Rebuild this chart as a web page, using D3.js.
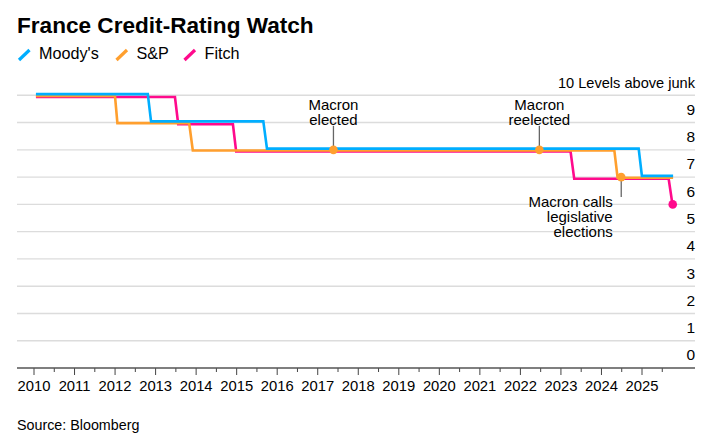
<!DOCTYPE html>
<html><head><meta charset="utf-8">
<script src="https://cdn.jsdelivr.net/npm/d3@7"></script>
<style>
html,body{margin:0;background:#fff}
svg{display:block}
text{font-family:"Liberation Sans",Arial,sans-serif;fill:#000}
</style></head><body><div id="c"></div>
<script>
const title = "France Credit-Rating Watch";
const source = "Source: Bloomberg";
const unitLabel = "10 Levels above junk";
const moodys = [[2010.06,10],[2012.82,10],[2012.9,9],[2015.67,9],[2015.76,8],[2024.93,8],[2025.01,7],[2025.78,7]];
const sp = [[2010.06,10],[2012.01,10],[2012.07,9],[2013.84,9],[2013.93,8],[2024.33,8],[2024.41,7],[2025.78,7]];
const fitch = [[2010.06,10],[2013.49,10],[2013.57,9],[2014.92,9],[2015.0,8],[2023.25,8],[2023.34,7],[2025.67,7],[2025.77,6]];
const yearTicks = d3.range(2010,2026);
const halfTicks = d3.range(2010.5,2026,1);
const levelLines = d3.range(1,11);
const levelLabels = d3.range(0,10);
const events = [
  {x:2017.4,y:8,lines:["Macron","elected"],dir:"up",anchor:"middle"},
  {x:2022.48,y:8,lines:["Macron","reelected"],dir:"up",anchor:"middle"},
  {x:2024.5,y:7,lines:["Macron calls","legislative","elections"],dir:"down",anchor:"end"}
];
const series = [
  {name:"Fitch",data:fitch,color:"#ff0a8c",dy:1.7},
  {name:"S&P",data:sp,color:"#ff9f2e",dy:0.6},
  {name:"Moody's",data:moodys,color:"#00aeff",dy:-1.2}
];
const legend = [{name:"Moody's",color:"#00aeff",x:19,tx:39},{name:"S&P",color:"#ff9f2e",x:116.5,tx:136.5},{name:"Fitch",color:"#ff0a8c",x:184.5,tx:204.5}];

const W=723,H=447;
const svg=d3.select("#c").append("svg").attr("width",W).attr("height",H);
const x=d3.scaleLinear().domain([2010,2025]).range([33.5,641.5]);
const y=d3.scaleLinear().domain([0,10]).range([368,95.3]);
const L=17,R=695;

svg.append("text").attr("x",17).attr("y",33).attr("font-size",22.6).attr("font-weight",700).text(title);
legend.forEach(d=>{
  svg.append("line").attr("x1",d.x).attr("x2",d.x+10.5).attr("y1",60).attr("y2",50).attr("stroke",d.color).attr("stroke-width",3.2);
  svg.append("text").attr("x",d.tx).attr("y",59).attr("font-size",16.2).text(d.name);
});

svg.append("g").selectAll("line").data(levelLines).join("line")
  .attr("x1",L).attr("x2",R).attr("y1",d=>y(d)).attr("y2",d=>y(d)).attr("stroke","#dcdcdc").attr("stroke-width",1.4);

svg.append("text").attr("x",695).attr("y",88).attr("text-anchor","end").attr("font-size",14.6).text(unitLabel);
svg.append("g").selectAll("text").data(levelLabels).join("text")
  .attr("x",695).attr("y",d=>y(d+0.5)+6).attr("text-anchor","end").attr("font-size",15.5).text(d=>d);

// x axis
const major=d3.axisBottom(x).tickValues(yearTicks).tickFormat(d3.format("d")).tickSize(7).tickPadding(5);
const gx=svg.append("g").attr("transform","translate(0,368)").call(major);
gx.select(".domain").remove();
gx.selectAll("line").attr("stroke","#444");
gx.selectAll("text").attr("font-size",14.8).attr("font-family",'"Liberation Sans",Arial,sans-serif').attr("fill","#000");
const minor=d3.axisBottom(x).tickValues(halfTicks).tickFormat("").tickSize(4);
const gm=svg.append("g").attr("transform","translate(0,368)").call(minor);
gm.select(".domain").remove();
gm.selectAll("line").attr("stroke","#444");
svg.append("line").attr("x1",L).attr("x2",R).attr("y1",368).attr("y2",368).attr("stroke","#555").attr("stroke-width",1.4);

// series
const line=d3.line().x(d=>x(d[0])).y(d=>y(d[1]));
series.forEach(s=>{
  svg.append("path").attr("d",line(s.data)).attr("fill","none").attr("stroke",s.color).attr("stroke-width",2.6)
    .attr("stroke-linejoin","miter").attr("transform",`translate(0,${s.dy})`);
});

// annotations
events.forEach(e=>{
  const px=x(e.x),py=y(e.y);
  const y2=e.dir==="up"?py-24:py+20;
  svg.append("line").attr("x1",px).attr("x2",px).attr("y1",py).attr("y2",y2).attr("stroke","#666").attr("stroke-width",1.3);
  svg.append("circle").attr("cx",px).attr("cy",py).attr("r",4.3).attr("fill","#ff9f2e");
  const t=svg.append("text").attr("font-size",15).attr("text-anchor",e.anchor);
  const tx=e.anchor==="middle"?px:px-8.5;
  const ty=e.dir==="up"?py-39.7:py+29.5;
  e.lines.forEach((l,i)=>t.append("tspan").attr("x",tx).attr("y",ty+i*15.3).text(l));
});
const last=fitch[fitch.length-1];
svg.append("circle").attr("cx",x(last[0])).attr("cy",y(last[1])).attr("r",4.3).attr("fill","#ff0a8c");

svg.append("text").attr("x",17).attr("y",430).attr("font-size",14.3).text(source);
</script></body></html>
